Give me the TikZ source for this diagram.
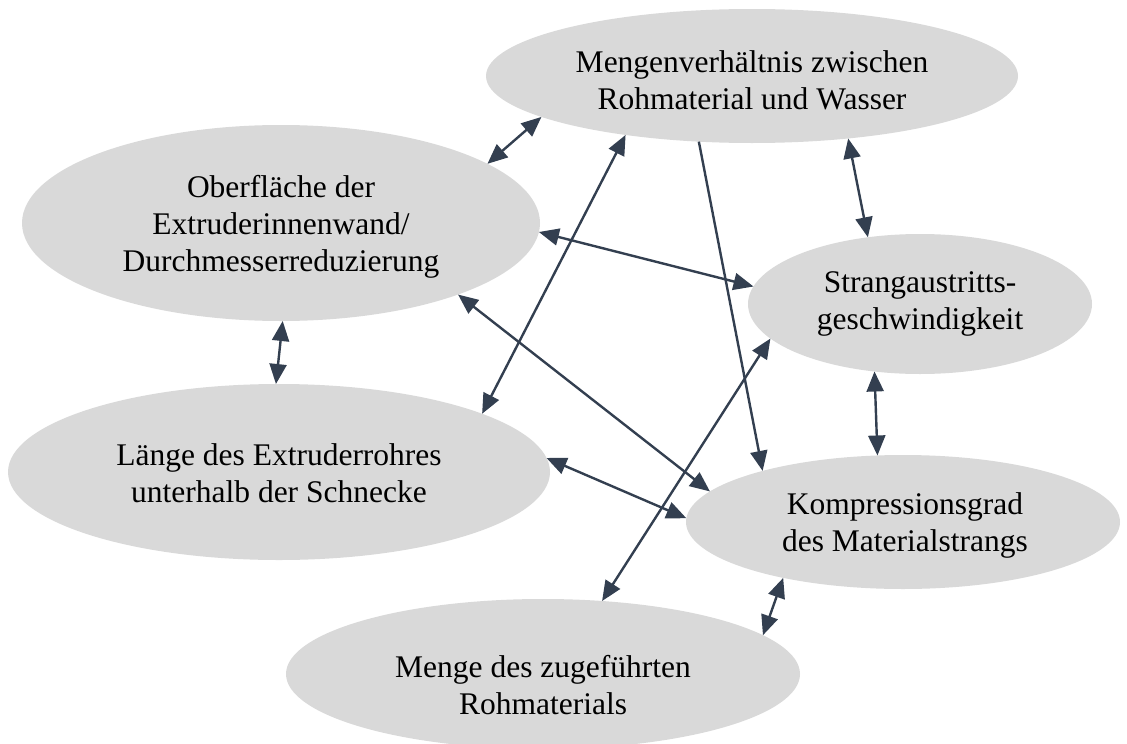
\documentclass[tikz,border=0pt]{standalone}
\usepackage{fontspec}
\setmainfont{Liberation Serif}
\usetikzlibrary{shapes.geometric,arrows.meta}
\definecolor{ellfill}{RGB}{217,217,217}
\definecolor{arr}{RGB}{51,63,80}
\tikzset{
  ell/.style={ellipse, fill=ellfill, draw=none, inner sep=0pt, outer sep=0pt},
  txt/.style={align=center, inner sep=0pt, font=\fontsize{31.5}{37}\selectfont},
  conn/.style={draw=arr, line width=2.4pt, {Triangle[length=20pt,width=17pt]}-{Triangle[length=20pt,width=17pt]}},
  conn1/.style={draw=arr, line width=2.4pt, -{Triangle[length=20pt,width=17pt]}}
}
\begin{document}
\begin{tikzpicture}[x=1pt,y=-1pt]
\useasboundingbox (0,0) rectangle (1127,744);
\node[ell, minimum width=532pt, minimum height=134pt] (mv) at (752,76) {};
\node[ell, minimum width=518pt, minimum height=196pt] (ob) at (281,223) {};
\node[ell, minimum width=344pt, minimum height=140pt] (st) at (920,304) {};
\node[ell, minimum width=542pt, minimum height=176pt] (la) at (279,472) {};
\node[ell, minimum width=434pt, minimum height=134pt] (ko) at (903,522) {};
\node[ell, minimum width=514pt, minimum height=150pt] (me) at (543,674) {};

\node[txt] (mvt) at (752,80) {Mengenverhältnis zwischen\\Rohmaterial und Wasser};
\node[txt] (obt) at (281,227) {Oberfläche der\\Extruderinnenwand/\\Durchmesserreduzierung};
\node[txt] (stt) at (920,304) {Strangaustritts-\\geschwindigkeit};
\node[txt] (lat) at (279,473) {Länge des Extruderrohres\\unterhalb der Schnecke};
\node[txt] (kot) at (905,525) {Kompressionsgrad\\des Materialstrangs};
\node[txt] (met) at (543,685) {Menge des zugeführten\\Rohmaterials};

\draw[conn] (mv.191) -- (ob.16);
\draw[conn] (la.16) -- (mv.205.4);
\draw[conn1] (mv.231.2) -- (ko.160);
\draw[conn] (mv.327.4) -- (st.128.6);
\draw[conn] (ob.358) -- (st.174.9);
\draw[conn] (ob.338.7) -- (ko.171.1);
\draw[conn] (ob.271) -- (la.92.7);
\draw[conn] (st.193) -- (me.51.6);
\draw[conn] (st.236.7) -- (ko.111.3);
\draw[conn] (la.3) -- (ko.179.4);
\draw[conn] (ko.205) -- (me.10.8);
\end{tikzpicture}
\end{document}
